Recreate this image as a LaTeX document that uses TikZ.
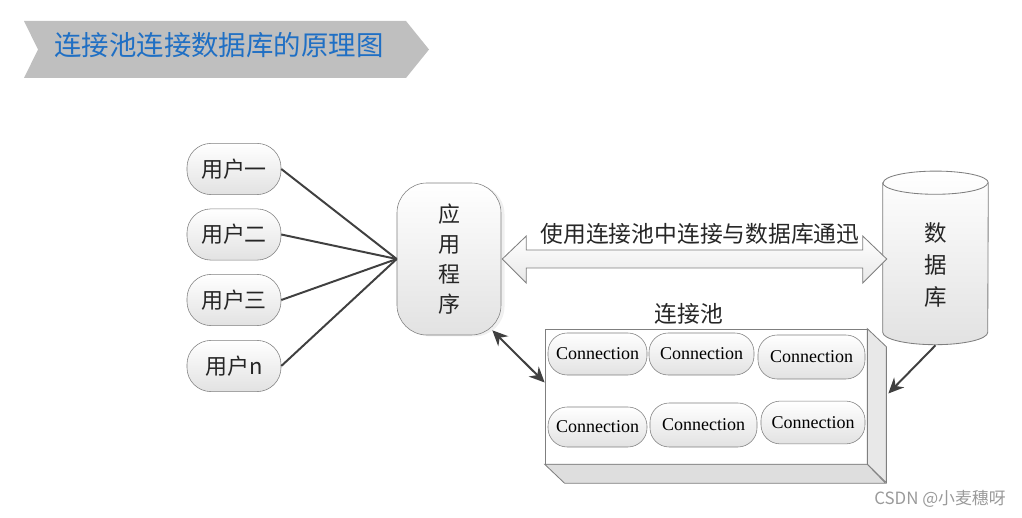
\documentclass[tikz,border=0pt]{standalone}
\usepackage{fontspec}
\setmainfont{Liberation Serif}
\newfontfamily\cjk{Noto Sans CJK SC}
\usepackage{tikz}
\usetikzlibrary{positioning,calc,arrows.meta,shadows}
\definecolor{titlegray}{HTML}{BFBFBF}
\definecolor{titleblue}{HTML}{1F6FC4}
\definecolor{edgegray}{HTML}{7F7F7F}
\definecolor{shadegray}{HTML}{E2E2E2}
\definecolor{linkdark}{HTML}{404040}
\definecolor{textdark}{HTML}{262626}
\definecolor{facegray}{HTML}{E8E8E8}
\definecolor{markgray}{HTML}{9A9A9A}

\begin{document}
\begin{tikzpicture}[x=0.025cm, y=-0.025cm, userbox/.style={draw=edgegray, top color=white, bottom color=shadegray, rounded corners=0.6cm, minimum width=2.35cm, minimum height=1.28cm, inner sep=0pt, font=\cjk\fontsize{15.6}{18}\selectfont, text=textdark}, appbox/.style={draw=edgegray, top color=white, bottom color=shadegray, rounded corners=0.75cm, minimum width=2.6cm, minimum height=3.8cm, align=center, inner sep=0pt, font=\cjk\fontsize{15.6}{21.3}\selectfont, text=textdark, drop shadow={opacity=0.12, shadow xshift=2.5pt, shadow yshift=-1pt}}, connbox/.style={draw=edgegray, top color=white, bottom color=shadegray, rounded corners=0.48cm, minimum height=1.05cm, inner sep=0pt, font=\fontsize{12.8}{15}\selectfont, text=black}, cjklabel/.style={font=\cjk\fontsize{16.2}{19}\selectfont, text=textdark, inner sep=0pt}, boxedge/.style={draw=edgegray, line width=0.6pt}, link/.style={draw=linkdark, line width=1.4pt}, linkarrow/.style={link, -{Stealth[length=11pt, width=10pt]}}]
\useasboundingbox (0,0) rectangle (1022,518);
% title banner
\fill[titlegray] (24,21) -- (406,21) -- (429,49.5) -- (406,78) -- (24,78) -- (38,49.5) -- cycle;
\node[font=\cjk\fontsize{19.5}{22}\selectfont, text=titleblue, inner sep=0pt] (title) at (219,45) {连接池连接数据库的原理图};
% users and application
\node[userbox] (u1) at (234,169) {用户一};
\node[userbox] (u2) at (234,234.5) {用户二};
\node[userbox] (u3) at (234,300) {用户三};
\node[userbox] (un) at (234,366) {用户n};
\node[appbox] (app) at (449,259) {应\\用\\程\\序};
\draw[link] (u1.east) -- (app.west);
\draw[link] (u2.east) -- (app.west);
\draw[link] (u3.east) -- (app.west);
\draw[link] (un.east) -- (app.west);
% database
\node[minimum width=2.625cm, minimum height=3.725cm, inner sep=0pt] (db) at (935.5,257.5) {};
\draw[boxedge, top color=white, bottom color=shadegray] (db.north west) -- (db.south west) arc[start angle=180, end angle=360, x radius=1.3125cm, y radius=0.31cm] -- (db.north east) arc[start angle=0, end angle=180, x radius=1.3125cm, y radius=0.29cm] -- cycle;
\draw[boxedge] (db.north west) arc[start angle=180, end angle=360, x radius=1.3125cm, y radius=0.29cm];
\node[cjklabel, align=center, font=\cjk\fontsize{16}{22.8}\selectfont] (dbtext) at (936,265) {数\\据\\库};
% hollow double arrow
\coordinate (commL) at ($(app.east)+(1,0)$);
\coordinate (commR) at ($(db.west)+(4,1.5)$);
\draw[boxedge, top color=white, bottom color=facegray] (commL) -- ++(24,-23) -- ++(0,14) -- ($(commR)+(-24,-9)$) -- ++(0,-14) -- (commR) -- ++(-24,24) -- ++(0,-15) -- ($(commL)+(24,9)$) -- ++(0,15) -- cycle;
\node[cjklabel] (commtext) at (700,234) {使用连接池中连接与数据库通迅};
% connection pool
\node[draw=edgegray, fill=white, minimum width=8.05cm, minimum height=3.375cm, inner sep=0pt] (pool) at (706,396.5) {};
\draw[boxedge, fill=facegray] (pool.north east) -- ++(19,18) -- ++(0,136) -- (pool.south east) -- cycle;
\draw[boxedge, fill=facegray!90!gray] (pool.south west) -- ++(20,19) -- ++(321,0) -- (pool.south east) -- cycle;
\node[cjklabel] (pooltext) at (689,314) {连接池};
\node[connbox, minimum width=2.475cm] (c1) at (597.5,354) {Connection};
\node[connbox, minimum width=2.625cm] (c2) at (701.5,354) {Connection};
\node[connbox, minimum width=2.675cm, minimum height=1.1cm] (c3) at (811.5,357) {Connection};
\node[connbox, minimum width=2.475cm, minimum height=1.0cm] (c4) at (597.5,427) {Connection};
\node[connbox, minimum width=2.675cm, minimum height=1.1cm] (c5) at (703.5,425) {Connection};
\node[connbox, minimum width=2.6cm, minimum height=1.07cm] (c6) at (813,422.5) {Connection};
% connectors
\coordinate (dbfoot) at ($(db.south)+(0,13)$);
\coordinate (poolside) at ($(pool.east)+(21,-3)$);
\draw[linkarrow] (dbfoot) -- (poolside);
\draw[link, {Stealth[length=11pt, width=10pt]}-{Stealth[length=11pt, width=10pt]}] ($(app.south east)+(-9,-5)$) -- ($(pool.west)+(0,-14)$);
% watermark
\node[font=\cjk\fontsize{12}{14}\selectfont, text=markgray, inner sep=0pt] (csdn) at (940,499) {CSDN @小麦穗呀};
\end{tikzpicture}
\end{document}
